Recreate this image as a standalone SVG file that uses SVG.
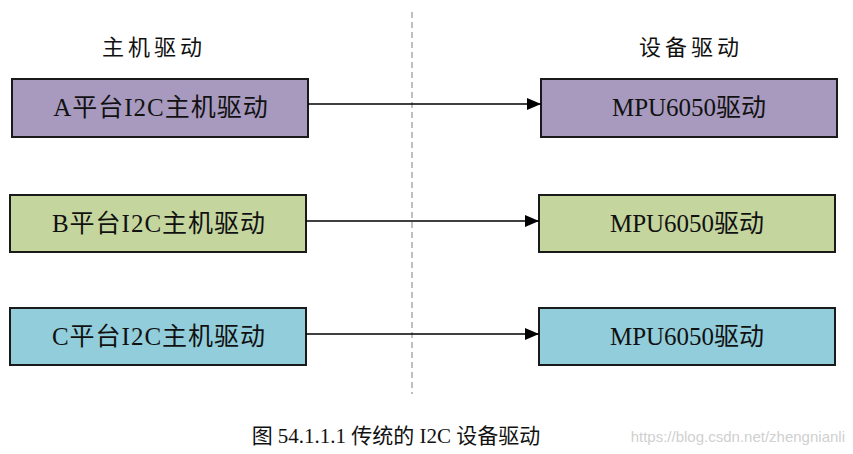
<svg xmlns="http://www.w3.org/2000/svg" width="853" height="454" viewBox="0 0 853 454">
<style>
.box{stroke:#1a1a1a;stroke-width:2}
.t{font-family:"Liberation Serif","Noto Sans CJK SC",serif;font-size:25px;fill:#111;text-anchor:middle;dominant-baseline:central;letter-spacing:1px}
.d{letter-spacing:0}
.h{font-family:"Liberation Serif","Noto Sans CJK SC",serif;font-size:22px;fill:#111;text-anchor:middle;letter-spacing:4px}
.c{stroke:#000;stroke-width:1.5;fill:none;marker-end:url(#ah)}
</style>
<defs>
<marker id="ah" markerWidth="14" markerHeight="12" refX="14" refY="6" orient="auto" markerUnits="userSpaceOnUse">
<path d="M0,0 L14,6 L0,12 Z" fill="#000"/>
</marker>
</defs>
<rect width="853" height="454" fill="#fff"/>
<line x1="412" y1="12" x2="412" y2="394" stroke="#aaa" stroke-width="1.5" stroke-dasharray="6,4"/>
<text class="h" x="154" y="55">主机驱动</text>
<text class="h" x="691" y="55">设备驱动</text>
<g id="hostA"><rect class="box" x="12" y="79" width="296" height="58" fill="#A89ABF"/><text class="t" x="161" y="107">A平台I2C主机驱动</text></g>
<g id="hostB"><rect class="box" x="10" y="195" width="296" height="57" fill="#C4D59E"/><text class="t" x="159" y="223">B平台I2C主机驱动</text></g>
<g id="hostC"><rect class="box" x="10" y="308" width="296" height="57" fill="#92CDDB"/><text class="t" x="159" y="336">C平台I2C主机驱动</text></g>
<g id="devA"><rect class="box" x="541" y="79" width="296" height="58" fill="#A89ABF"/><text class="t d" x="689" y="107">MPU6050驱动</text></g>
<g id="devB"><rect class="box" x="539" y="195" width="296" height="57" fill="#C4D59E"/><text class="t d" x="687" y="223">MPU6050驱动</text></g>
<g id="devC"><rect class="box" x="539" y="308" width="296" height="57" fill="#92CDDB"/><text class="t d" x="687" y="336">MPU6050驱动</text></g>
<g id="connectors">
<line class="c" x1="308" y1="104" x2="541" y2="104"/>
<line class="c" x1="306" y1="221" x2="539" y2="221"/>
<line class="c" x1="306" y1="334" x2="539" y2="334"/>
</g>
<text x="396" y="443" font-family="Liberation Serif,'Noto Sans CJK SC',serif" font-size="21" fill="#111" text-anchor="middle">图 54.1.1.1  传统的 I2C 设备驱动</text>
<text x="845" y="442" font-family="Liberation Sans,sans-serif" font-size="15" fill="#d0d0d0" text-anchor="end">https://blog.csdn.net/zhengnianli</text>
</svg>
